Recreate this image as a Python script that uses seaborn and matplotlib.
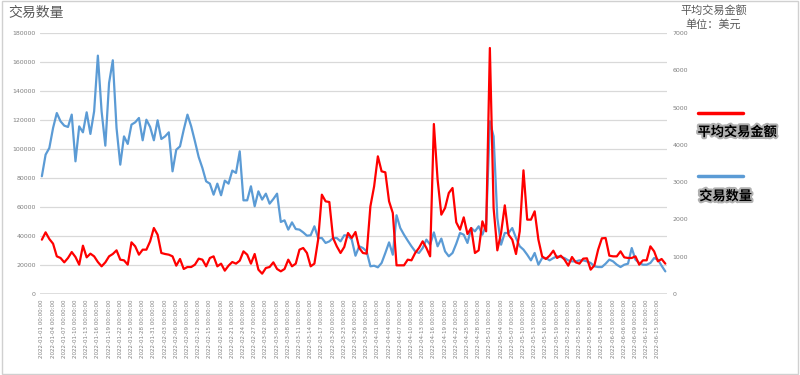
"""Daily transaction count vs. average transaction amount, 2022-01-01 .. 2022-06-17."""

import matplotlib
matplotlib.use("Agg")
import matplotlib.pyplot as plt
import matplotlib.patheffects as pe
from matplotlib.lines import Line2D
from matplotlib.patches import Rectangle
import numpy as np
import pandas as pd
import seaborn as sns

# x categories: one point per day
dates = pd.date_range("2022-01-01", "2022-06-17", freq="D")

# 交易数量 (left axis)
count_vals = [
    81200, 96100, 100700, 114500, 124800, 119100, 116100, 115200, 123700, 91500,
    115600, 111500, 125300, 110400, 126000, 164400, 126000, 102300, 145500, 161200,
    114500, 89200, 108700, 103500, 116800, 118400, 121400, 106000, 120200, 115200,
    106000, 119800, 106900, 108700, 111500, 84600, 99500, 101800, 113300, 123700,
    115600, 105300, 94500, 86900, 77700, 76100, 68500, 76100, 68100, 78200,
    76100, 85100, 83500, 98400, 64600, 64600, 74300, 60500, 70800, 65100,
    69200, 62300, 65500, 69200, 49700, 50800, 44400, 49400, 44800, 44400,
    42500, 40200, 40500, 46700, 38600, 38600, 35200, 36300, 38600, 38600,
    36300, 40500, 40200, 37500, 26400, 32900, 31700, 29400, 19100, 19500,
    18400, 21400, 28300, 35600, 27100, 54300, 45500, 40900, 36800, 32900,
    29400, 28300, 31700, 37500, 34000, 42500, 32900, 38200, 29400, 26000,
    28300, 34700, 42100, 40900, 35200, 45500, 43200, 46700, 40900, 47800,
    119100, 108700, 52400, 34000, 42100, 42100, 45500, 38600, 32900, 30600,
    27100, 23200, 28300, 20200, 24800, 24800, 23200, 24800, 26000, 25500,
    24800, 23200, 22500, 22500, 23200, 23200, 22500, 21400, 19100, 18600,
    18600, 20900, 23700, 22500, 20200, 18600, 20200, 20900, 31700, 23700,
    21400, 20200, 20200, 21400, 24800, 23700, 19500, 15600,
]

# 平均交易金额 (right axis, USD)
amount_vals = [
    1457, 1654, 1475, 1350, 1010, 966, 849, 966, 1126, 992,
    787, 1296, 983, 1082, 1010, 858, 742, 849, 1010, 1073,
    1171, 921, 903, 787, 1386, 1278, 1055, 1189, 1189, 1413,
    1770, 1591, 1100, 1073, 1055, 1010, 760, 939, 671, 724,
    724, 787, 948, 921, 742, 966, 1010, 742, 814, 626,
    760, 858, 814, 894, 1144, 1055, 814, 1073, 653, 545,
    697, 724, 849, 671, 608, 671, 921, 742, 814, 1189,
    1234, 1100, 742, 814, 1457, 2664, 2485, 2467, 1502, 1278,
    1100, 1261, 1636, 1502, 1663, 1234, 1100, 1082, 2351, 2888,
    3692, 3290, 3263, 2485, 2172, 769, 769, 769, 921, 903,
    1100, 1234, 1413, 1234, 1010, 4559, 3066, 2128, 2307, 2709,
    2843, 1922, 1725, 2056, 1609, 1770, 1100, 1171, 1949, 1681,
    6598, 2307, 1171, 1636, 2378, 1591, 1457, 1073, 1681, 3317,
    1994, 1994, 2217, 1457, 1010, 939, 1028, 1162, 966, 1028,
    921, 760, 992, 849, 814, 948, 957, 653, 769, 1189,
    1493, 1502, 1028, 1010, 1010, 1144, 983, 966, 966, 1010,
    787, 903, 903, 1278, 1144, 876, 939, 814,
]

left_ticks = list(range(0, 180001, 20000))
right_ticks = list(range(0, 7001, 1000))

df = pd.DataFrame({
    "day": np.arange(len(dates)),
    "count": count_vals,
    "amount": amount_vals,
})

sns.set_style("white")
plt.rcParams["font.family"] = ["Noto Sans CJK SC", "DejaVu Sans"]

BLUE = "#5b9bd5"
RED = "#ff0000"
GRID = "#d9d9d9"
TXT = "#7f7f7f"

fig = plt.figure(figsize=(8, 3.75), dpi=100)
ax = fig.add_axes([0.05, 0.216, 0.784, 0.696])
ax2 = ax.twinx()

sns.lineplot(data=df, x="day", y="count", ax=ax, color=BLUE, linewidth=1.6, legend=False)
sns.lineplot(data=df, x="day", y="amount", ax=ax2, color=RED, linewidth=1.6, legend=False)

ax.set_xlim(-0.5, len(dates) - 0.5)
ax.set_ylim(0, 180000)
ax2.set_ylim(0, 7000)
ax.set_yticks(left_ticks)
ax2.set_yticks(right_ticks)
ax.set_yticklabels([str(v) for v in left_ticks], fontsize=4.5, color=TXT, family="DejaVu Sans")
ax2.set_yticklabels([str(v) for v in right_ticks], fontsize=4.5, color=TXT, family="DejaVu Sans")

xt = np.arange(0, len(dates), 3)
ax.set_xticks(xt)
ax.set_xticklabels(dates[xt].strftime("%Y-%m-%d %H:%M:%S"), rotation=90,
                   fontsize=4, color=TXT, family="DejaVu Sans")

ax.grid(axis="y", color=GRID, linewidth=0.9)
ax.grid(axis="x", visible=False)
ax2.grid(False)
for a in (ax, ax2):
    for s in ("top", "right", "left"):
        a.spines[s].set_visible(False)
    a.spines["bottom"].set_visible(False)
    a.set_xlabel("")
    a.set_ylabel("")
ax.axhline(0, color=GRID, linewidth=1.2, zorder=0)
ax.tick_params(axis="both", length=0)
ax.tick_params(axis="y", pad=3)
ax.tick_params(axis="x", pad=4)
ax2.tick_params(axis="y", length=0, pad=4)

# titles
fig.text(0.01, 0.965, "交易数量", fontsize=10, color="#595959", va="center", ha="left")
fig.text(0.892, 0.972, "平均交易金额", fontsize=8, color="#595959", va="center", ha="center")
fig.text(0.892, 0.935, "单位：美元", fontsize=8, color="#595959", va="center", ha="center")

# custom legend on the right
glow = [pe.withStroke(linewidth=3, foreground="#b0b0b0")]
fig.add_artist(Line2D([0.872, 0.929], [0.699, 0.699], color=RED, linewidth=2.5,
                      transform=fig.transFigure))
fig.text(0.872, 0.648, "平均交易金额", fontsize=9.5, fontweight="bold", color="black",
         va="center", ha="left", path_effects=glow)
fig.add_artist(Line2D([0.872, 0.929], [0.531, 0.531], color=BLUE, linewidth=2.5,
                      transform=fig.transFigure))
fig.text(0.874, 0.477, "交易数量", fontsize=9.5, fontweight="bold", color="black",
         va="center", ha="left", path_effects=glow)

# thin frame around the picture
fig.add_artist(Rectangle((0.002, 0.003), 0.996, 0.994, transform=fig.transFigure,
                         fill=False, edgecolor="#d0d0d0", linewidth=1))

fig.savefig("out.png", dpi=100)
